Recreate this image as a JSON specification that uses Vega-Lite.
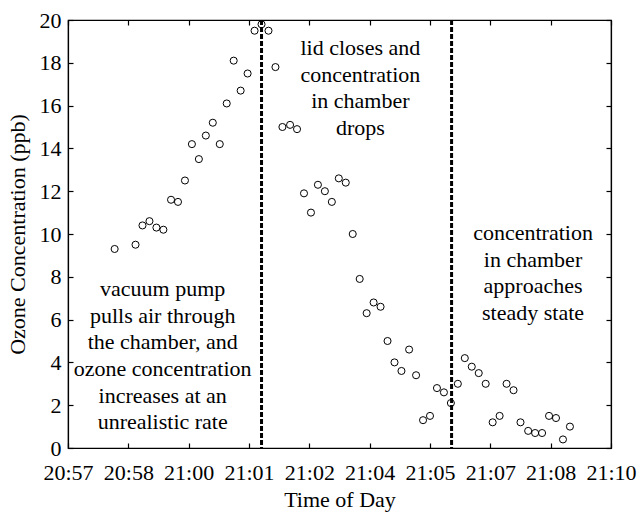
{
  "$schema": "https://vega.github.io/schema/vega-lite/v6.json",
  "width": 543,
  "height": 428,
  "autosize": {"type": "none"},
  "padding": {"left": 68, "top": 20, "right": 27, "bottom": 66},
  "background": "white",
  "config": {
    "font": "Liberation Serif",
    "view": {"stroke": "black", "strokeWidth": 1.2},
    "axis": {"grid": false, "domainColor": "black", "tickColor": "black", "labelColor": "black", "titleColor": "black", "labelFont": "Liberation Serif", "titleFont": "Liberation Serif", "labelFontSize": 22, "titleFontSize": 22, "titleFontWeight": "normal", "tickSize": -5, "domainWidth": 1.2, "tickWidth": 1.2}
  },
  "datasets": {
    "ozone": [
      {"seconds_after_2057": 67, "ozone_ppb": 9.3},
      {"seconds_after_2057": 97, "ozone_ppb": 9.5},
      {"seconds_after_2057": 107, "ozone_ppb": 10.4},
      {"seconds_after_2057": 117, "ozone_ppb": 10.6},
      {"seconds_after_2057": 127, "ozone_ppb": 10.3},
      {"seconds_after_2057": 137, "ozone_ppb": 10.2},
      {"seconds_after_2057": 148, "ozone_ppb": 11.6},
      {"seconds_after_2057": 158, "ozone_ppb": 11.5},
      {"seconds_after_2057": 168, "ozone_ppb": 12.5},
      {"seconds_after_2057": 178, "ozone_ppb": 14.2},
      {"seconds_after_2057": 188, "ozone_ppb": 13.5},
      {"seconds_after_2057": 198, "ozone_ppb": 14.6},
      {"seconds_after_2057": 208, "ozone_ppb": 15.2},
      {"seconds_after_2057": 218, "ozone_ppb": 14.2},
      {"seconds_after_2057": 228, "ozone_ppb": 16.1},
      {"seconds_after_2057": 238, "ozone_ppb": 18.1},
      {"seconds_after_2057": 248, "ozone_ppb": 16.7},
      {"seconds_after_2057": 258, "ozone_ppb": 17.5},
      {"seconds_after_2057": 268, "ozone_ppb": 19.5},
      {"seconds_after_2057": 278, "ozone_ppb": 19.8},
      {"seconds_after_2057": 288, "ozone_ppb": 19.5},
      {"seconds_after_2057": 298, "ozone_ppb": 17.8},
      {"seconds_after_2057": 308, "ozone_ppb": 15.0},
      {"seconds_after_2057": 319, "ozone_ppb": 15.1},
      {"seconds_after_2057": 329, "ozone_ppb": 14.9},
      {"seconds_after_2057": 339, "ozone_ppb": 11.9},
      {"seconds_after_2057": 349, "ozone_ppb": 11.0},
      {"seconds_after_2057": 359, "ozone_ppb": 12.3},
      {"seconds_after_2057": 369, "ozone_ppb": 12.0},
      {"seconds_after_2057": 379, "ozone_ppb": 11.5},
      {"seconds_after_2057": 389, "ozone_ppb": 12.6},
      {"seconds_after_2057": 399, "ozone_ppb": 12.4},
      {"seconds_after_2057": 409, "ozone_ppb": 10.0},
      {"seconds_after_2057": 419, "ozone_ppb": 7.9},
      {"seconds_after_2057": 429, "ozone_ppb": 6.3},
      {"seconds_after_2057": 439, "ozone_ppb": 6.8},
      {"seconds_after_2057": 449, "ozone_ppb": 6.6},
      {"seconds_after_2057": 459, "ozone_ppb": 5.0},
      {"seconds_after_2057": 469, "ozone_ppb": 4.0},
      {"seconds_after_2057": 479, "ozone_ppb": 3.6},
      {"seconds_after_2057": 490, "ozone_ppb": 4.6},
      {"seconds_after_2057": 500, "ozone_ppb": 3.4},
      {"seconds_after_2057": 510, "ozone_ppb": 1.3},
      {"seconds_after_2057": 520, "ozone_ppb": 1.5},
      {"seconds_after_2057": 530, "ozone_ppb": 2.8},
      {"seconds_after_2057": 540, "ozone_ppb": 2.6},
      {"seconds_after_2057": 550, "ozone_ppb": 2.1},
      {"seconds_after_2057": 560, "ozone_ppb": 3.0},
      {"seconds_after_2057": 570, "ozone_ppb": 4.2},
      {"seconds_after_2057": 580, "ozone_ppb": 3.8},
      {"seconds_after_2057": 590, "ozone_ppb": 3.5},
      {"seconds_after_2057": 600, "ozone_ppb": 3.0},
      {"seconds_after_2057": 610, "ozone_ppb": 1.2},
      {"seconds_after_2057": 620, "ozone_ppb": 1.5},
      {"seconds_after_2057": 630, "ozone_ppb": 3.0},
      {"seconds_after_2057": 640, "ozone_ppb": 2.7},
      {"seconds_after_2057": 650, "ozone_ppb": 1.2},
      {"seconds_after_2057": 661, "ozone_ppb": 0.8},
      {"seconds_after_2057": 671, "ozone_ppb": 0.7},
      {"seconds_after_2057": 681, "ozone_ppb": 0.7},
      {"seconds_after_2057": 691, "ozone_ppb": 1.5},
      {"seconds_after_2057": 701, "ozone_ppb": 1.4},
      {"seconds_after_2057": 711, "ozone_ppb": 0.4},
      {"seconds_after_2057": 721, "ozone_ppb": 1.0}
    ],
    "events": [
      {"seconds_after_2057": 278},
      {"seconds_after_2057": 551}
    ],
    "notes": [
      {"seconds_after_2057": 136, "ozone_ppb": 7.43, "note": "vacuum pump\npulls air through\nthe chamber, and\nozone concentration\nincreases at an\nunrealistic rate"},
      {"seconds_after_2057": 420, "ozone_ppb": 18.69, "note": "lid closes and\nconcentration\nin chamber\ndrops"},
      {"seconds_after_2057": 668, "ozone_ppb": 10.05, "note": "concentration\nin chamber\napproaches\nsteady state"}
    ]
  },
  "resolve": {"axis": {"x": "independent", "y": "independent"}},
  "layer": [
    {
      "data": {"name": "ozone"},
      "mark": {"type": "point", "shape": "circle", "filled": false, "stroke": "black", "strokeWidth": 1, "size": 50, "opacity": 1},
      "encoding": {
        "x": {
          "field": "seconds_after_2057", "type": "quantitative",
          "scale": {"domain": [0, 780], "nice": false, "zero": false},
          "axis": {
            "orient": "bottom", "title": "Time of Day", "titlePadding": 6,
            "values": [0, 86.6667, 173.3333, 260, 346.6667, 433.3333, 520, 606.6667, 693.3333, 780],
            "labelExpr": "['20:57','20:58','21:00','21:01','21:02','21:04','21:05','21:07','21:08','21:10'][round(datum.value / 86.6667)]",
            "labelPadding": 19, "labelFlush": false, "labelOverlap": false
          }
        },
        "y": {
          "field": "ozone_ppb", "type": "quantitative",
          "scale": {"domain": [0, 20], "nice": false},
          "axis": {"orient": "left", "title": "Ozone Concentration (ppb)", "values": [0, 2, 4, 6, 8, 10, 12, 14, 16, 18, 20], "labelPadding": 12, "titlePadding": 10, "labelFlush": false, "labelOverlap": false}
        }
      }
    },
    {
      "data": {"name": "ozone"},
      "mark": {"type": "point", "opacity": 0},
      "encoding": {
        "x": {
          "field": "seconds_after_2057", "type": "quantitative",
          "axis": {"orient": "top", "title": null, "labels": false, "values": [0, 86.6667, 173.3333, 260, 346.6667, 433.3333, 520, 606.6667, 693.3333, 780]}
        },
        "y": {
          "field": "ozone_ppb", "type": "quantitative",
          "axis": {"orient": "right", "title": null, "labels": false, "values": [0, 2, 4, 6, 8, 10, 12, 14, 16, 18, 20]}
        }
      }
    },
    {
      "data": {"name": "events"},
      "mark": {"type": "rule", "stroke": "black", "strokeWidth": 3, "strokeDash": [5, 2]},
      "encoding": {
        "x": {"field": "seconds_after_2057", "type": "quantitative", "axis": null}
      }
    },
    {
      "data": {"name": "notes"},
      "mark": {"type": "text", "font": "Liberation Serif", "fontSize": 22, "lineBreak": "\n", "lineHeight": 26.7, "align": "center", "baseline": "middle", "color": "black"},
      "encoding": {
        "x": {"field": "seconds_after_2057", "type": "quantitative", "axis": null},
        "y": {"field": "ozone_ppb", "type": "quantitative", "axis": null},
        "text": {"field": "note"}
      }
    }
  ]
}
